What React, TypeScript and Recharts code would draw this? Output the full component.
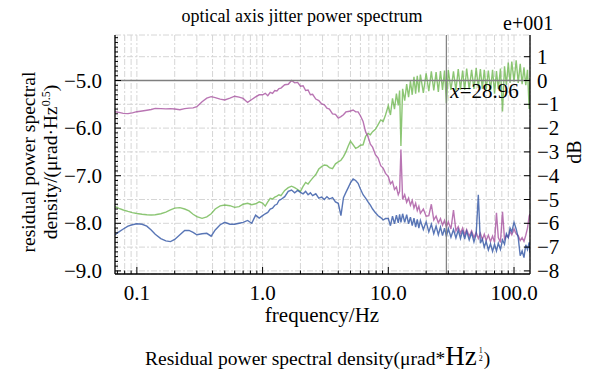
import React from "react";
import { LineChart, Line, XAxis, YAxis, CartesianGrid, ReferenceLine } from "recharts";

// frequency grid (Hz)
const freqs = [
  0.067, 0.072, 0.078, 0.085, 0.092, 0.1, 0.11, 0.12, 0.13, 0.14, 0.155, 0.17, 0.185, 0.2, 0.22, 0.24,
  0.26, 0.28, 0.3, 0.33, 0.36, 0.39, 0.42, 0.46, 0.5, 0.55, 0.6, 0.65, 0.7, 0.76, 0.82, 0.88, 0.94,
  1.0, 1.05, 1.1, 1.15, 1.2, 1.25, 1.3, 1.35, 1.4, 1.5, 1.6, 1.7, 1.8, 1.9, 2.0, 2.1, 2.2, 2.3, 2.4, 2.5,
  2.65, 2.8, 2.95, 3.1, 3.25, 3.4, 3.6, 3.8, 4.0, 4.2, 4.4, 4.6, 4.8, 5.0, 5.25, 5.5, 5.75, 6.0, 6.3,
  6.6, 6.9, 7.2, 7.5, 7.9, 8.3, 8.7, 9.1, 9.5,
  10, 10.4, 10.8, 11.2, 11.6, 12, 12.3, 12.6, 13, 13.5, 14, 14.5, 15, 15.5, 16, 16.5, 17, 17.5, 18, 19,
  20, 21, 22, 23, 24, 25, 26, 27, 28, 29, 30, 31.5, 33, 34.5, 36, 37.5, 39, 40.5, 42, 44, 46, 48, 50,
  52, 54, 56, 58, 60, 62.5, 65, 67.5, 70, 72.5, 75, 78, 81, 84, 87, 90, 93, 96, 100, 104, 108, 112,
  116, 120, 124, 128, 132, 134,
];

// open-loop residual PSD (left axis)
const pinkPsd = [
  -5.655, -5.67, -5.69, -5.695, -5.68, -5.655, -5.64, -5.625, -5.61, -5.585, -5.59, -5.595, -5.59, -5.6,
  -5.615, -5.59, -5.58, -5.575, -5.55, -5.445, -5.37, -5.34, -5.36, -5.39, -5.41, -5.37, -5.33, -5.35,
  -5.375, -5.46, -5.4, -5.345, -5.3,
  -5.3, -5.27, -5.32, -5.25, -5.27, -5.21, -5.22, -5.17, -5.16, -5.09, -5.08, -5.0, -5.05, -5.04, -5.12,
  -5.11, -5.21, -5.2, -5.3, -5.29, -5.39, -5.42, -5.49, -5.51, -5.58, -5.6, -5.7, -5.71, -5.79,
  -5.76, -5.72, -5.66, -5.65, -5.64, -5.62, -5.66, -5.66, -5.74, -5.86, -6.08, -6.18, -6.34, -6.4,
  -6.56, -6.63, -6.79, -6.84, -6.95,
  -7.02, -7.17, -7.12, -7.29, -7.24, -7.4, -7.33, -6.45, -7.5, -7.4, -7.56, -7.47, -7.62, -7.52, -7.68,
  -7.58, -7.73, -7.64, -7.79, -7.7, -7.85, -7.84, -7.6, -7.93, -7.85, -7.99, -7.9, -8.04, -7.94, -8.08,
  -7.97, -8.12, -7.72, -8.16, -8.07, -8.21, -8.1, -8.24, -8.13, -8.27, -8.16, -8.3, -8.19, -8.32, -8.21,
  -8.34, -8.23, -8.36, -8.25, -8.38, -8.27, -8.4, -7.78, -8.3, -8.4, -7.76, -8.33, -8.25, -8.3, -8.17,
  -8.24, -8.12, -8.22, -8.26, -8.36, -8.3, -8.38, -8.25, -8.1, -7.85, -7.8,
];

// closed-loop residual PSD (left axis)
const bluePsd = [
  -8.24, -8.18, -8.12, -8.06, -8.03, -8.01, -8.02, -8.06, -8.14, -8.23, -8.32, -8.37, -8.385, -8.34,
  -8.24, -8.15, -8.15, -8.19, -8.24, -8.22, -8.21, -8.27, -8.14, -8.03, -7.98, -8.02, -8.02, -8.0,
  -7.98, -7.94, -8.0, -7.83, -7.89,
  -7.84, -7.8, -7.77, -7.7, -7.68, -7.62, -7.6, -7.52, -7.5, -7.44, -7.33, -7.3, -7.36, -7.31, -7.35,
  -7.38, -7.33, -7.4, -7.36, -7.42, -7.38, -7.47, -7.45, -7.5, -7.44, -7.49, -7.46, -7.55, -7.58,
  -7.84, -7.46, -7.35, -7.25, -7.15, -7.07, -7.1, -7.16, -7.28, -7.4, -7.47, -7.55, -7.62, -7.7, -7.78,
  -7.84, -7.88, -7.93, -7.9,
  -7.9, -8.05, -7.85, -8.01, -7.83, -7.99, -7.81, -7.98, -7.8, -7.98, -7.82, -8.01, -7.87, -8.05, -7.89,
  -8.08, -7.92, -8.1, -7.94, -8.13, -7.97, -8.18, -8.02, -8.22, -8.06, -8.24, -8.08, -8.26, -8.1, -8.28,
  -8.11, -8.29, -8.13, -8.31, -8.14, -8.32, -8.15, -8.33, -8.17, -8.35, -8.2, -8.39, -8.23, -7.4, -8.42,
  -8.33, -8.5, -8.38, -8.56, -8.43, -8.59, -8.44, -8.58, -8.42, -8.55, -8.35, -8.44, -8.22, -8.3, -8.1,
  -8.18, -7.98, -8.12, -8.3, -8.68, -8.58, -8.72, -8.45, -8.55, -8.4, -8.62,
];

// rejection ratio, dB x10 (right axis)
const greenDb = [
  -5.3, -5.37, -5.44, -5.5, -5.55, -5.59, -5.62, -5.64, -5.65, -5.64, -5.6, -5.53, -5.44, -5.36, -5.34,
  -5.4, -5.48, -5.62, -5.72, -5.79, -5.73, -5.6, -5.4, -5.27, -5.23, -5.26, -5.33, -5.3, -5.2, -5.16,
  -5.22, -5.18, -5.1,
  -5.15, -5.28, -5.1, -4.95, -4.98, -4.9, -4.86, -4.8, -4.84, -4.62, -4.5, -4.44, -4.5, -4.58, -4.66,
  -4.45, -4.28, -4.35, -4.22, -4.1, -3.95, -3.72, -3.62, -3.55, -3.57, -3.66, -3.7, -3.5, -3.42, -3.35,
  -3.2, -3.0, -2.75, -2.55, -2.7, -2.85, -2.8, -2.72, -2.7, -2.35, -2.22, -2.28, -2.15, -2.05, -1.85,
  -1.66, -1.72, -1.45,
  -1.05, -1.45, -0.75, -1.2, -0.55, -1.05, -0.42, -2.75, -0.35, -0.85, -0.15, -0.7, -0.02, -0.6, 0.15,
  -0.55, 0.2, -0.5, 0.25, -0.52, 0.3, -0.45, 0.38, -0.42, 0.35, -0.48, 0.4, -0.4, 0.42, -0.95, 0.45,
  -0.4, 0.38, -0.42, 0.48, -0.38, 0.42, -0.4, 0.5, -0.36, 0.45, -0.35, 0.52, -0.3, 0.48, -0.35, 0.45,
  -0.38, 0.42, -0.42, 0.45, -0.55, 0.4, -0.35, 0.5, -1.3, 0.6, -0.2, 0.75, -0.1, 0.8, -0.05, 0.85, -0.1,
  0.7, -0.15, 0.55, -0.2, 0.45, -1.2, 0.1,
];

const xMajorTicks = [0.1, 1, 10, 100];
const xMinorTicks = [
  0.07, 0.08, 0.09, 0.2, 0.3, 0.4, 0.5, 0.6, 0.7, 0.8, 0.9, 2, 3, 4, 5, 6, 7, 8, 9,
  20, 30, 40, 50, 60, 70, 80, 90,
];
const leftMajorTicks = [-9, -8, -7, -6, -5];
const rightTicks = [-8, -7, -6, -5, -4, -3, -2, -1, 0, 1];
const cursorFreq = 28.96;
const refLevel = -5;

const leftMinorTicks = Array.from({ length: 50 }, (_, i) => Math.round((-9 + i * 0.1) * 10) / 10).filter(
  (v) => !leftMajorTicks.includes(v)
);

const data = freqs.map((f, i) => ({ f, pink: pinkPsd[i], blue: bluePsd[i], green: greenDb[i] }));

const serif = "'Liberation Serif', 'Times New Roman', serif";
const minus = (s: string) => s.replace("-", "\u2212");

function LeftTick(props: any) {
  const { x, y, payload } = props;
  const major = leftMajorTicks.includes(payload.value);
  return (
    <g>
      <line x1={x} x2={x + (major ? 6 : 3)} y1={y} y2={y} stroke="#000" />
      {major && (
        <text x={x - 13} y={y + 7} textAnchor="end" fontSize={21} fontFamily={serif} fill="#000">
          {minus(payload.value.toFixed(1))}
        </text>
      )}
    </g>
  );
}

function RightTick(props: any) {
  const { x, y, payload } = props;
  return (
    <g>
      <line x1={x} x2={x - 6} y1={y} y2={y} stroke="#000" />
      <text x={x + 7} y={y + 7} textAnchor="start" fontSize={21} fontFamily={serif} fill="#000">
        {minus(String(payload.value))}
      </text>
    </g>
  );
}

function BottomTick(props: any) {
  const { x, y, payload } = props;
  const major = xMajorTicks.includes(payload.value);
  return (
    <g>
      <line x1={x} x2={x} y1={y} y2={y - (major ? 7 : 3.5)} stroke="#000" />
      {major && (
        <text x={x} y={y + 26} textAnchor="middle" fontSize={21} fontFamily={serif} fill="#000">
          {payload.value.toFixed(1)}
        </text>
      )}
    </g>
  );
}

function CursorLabel(props: any) {
  const { viewBox } = props;
  return (
    <text x={viewBox.x + 4} y={viewBox.y + 63} fontSize={21} fontFamily={serif} fill="#000">
      <tspan fontStyle="italic">x</tspan>={cursorFreq}
    </text>
  );
}

export default function App() {
  return (
    <div style={{ position: "absolute", left: 0, top: 0, width: 593, height: 376, background: "#fff" }}>
      <LineChart width={593} height={376} data={data} margin={{ top: 35, right: 23, bottom: 72, left: 55 }}>
        <CartesianGrid yAxisId="right" stroke="#d6d6d6" strokeDasharray="6 2 2 2" />
        <XAxis
          dataKey="f"
          type="number"
          scale="log"
          domain={[0.067, 134]}
          allowDataOverflow
          ticks={[...xMinorTicks, ...xMajorTicks].sort((a, b) => a - b)}
          interval={0}
          tickSize={0}
          tickMargin={0}
          height={30}
          axisLine={{ stroke: "#000", strokeWidth: 1.3 }}
          tick={<BottomTick />}
        />
        <YAxis
          yAxisId="left"
          type="number"
          domain={[-9.065, -4.044]}
          allowDataOverflow
          ticks={[...leftMinorTicks, ...leftMajorTicks].sort((a, b) => a - b)}
          interval={0}
          tickSize={0}
          tickMargin={0}
          width={60}
          axisLine={{ stroke: "#000", strokeWidth: 1.3 }}
          tick={<LeftTick />}
        />
        <YAxis
          yAxisId="right"
          orientation="right"
          type="number"
          domain={[-8.13, 1.912]}
          allowDataOverflow
          ticks={rightTicks}
          interval={0}
          tickSize={0}
          tickMargin={0}
          width={40}
          axisLine={{ stroke: "#000", strokeWidth: 1.3 }}
          tick={<RightTick />}
        />
        <Line yAxisId="right" dataKey="green" stroke="#66b346" strokeOpacity={0.75} strokeWidth={1.4} dot={false} isAnimationActive={false} />
        <Line yAxisId="left" dataKey="pink" stroke="#a2479a" strokeOpacity={0.75} strokeWidth={1.4} dot={false} isAnimationActive={false} />
        <Line yAxisId="left" dataKey="blue" stroke="#2f54a4" strokeOpacity={0.8} strokeWidth={1.4} dot={false} isAnimationActive={false} />
        <ReferenceLine yAxisId="left" y={refLevel} stroke="#7f7f7f" strokeWidth={1.5} />
        <ReferenceLine yAxisId="left" x={cursorFreq} stroke="#7f7f7f" strokeWidth={1.2} label={<CursorLabel />} />
      </LineChart>
      <svg width={593} height={376} style={{ position: "absolute", left: 0, top: 0, pointerEvents: "none" }} fontFamily={serif} fill="#000">
        <text x={302} y={22} textAnchor="middle" fontSize={18}>optical axis jitter power spectrum</text>
        <text x={503} y={30} fontSize={20}>e+001</text>
        <text transform="translate(35,162) rotate(-90)" textAnchor="middle" fontSize={19.5}>residual power spectral</text>
        <text transform="translate(57,162) rotate(-90)" textAnchor="middle" fontSize={19.5}>
          density/(μrad·Hz<tspan dy={-7} fontSize={12}>0.5</tspan><tspan dy={7}>)</tspan>
        </text>
        <text transform="translate(581,152) rotate(-90)" textAnchor="middle" fontSize={20}>dB</text>
        <text x={322} y={322} textAnchor="middle" fontSize={21}>frequency/Hz</text>
        <text x={145} y={365} fontSize={19.5}>
          Residual power spectral density(μrad*<tspan fontSize={27}>Hz</tspan>
          <tspan fontSize={8} dx={2} dy={-12}>1</tspan>
          <tspan fontSize={8} dx={-4} dy={8}>2</tspan>
          <tspan fontSize={19.5} dx={1} dy={4}>)</tspan>
        </text>
      </svg>
    </div>
  );
}
